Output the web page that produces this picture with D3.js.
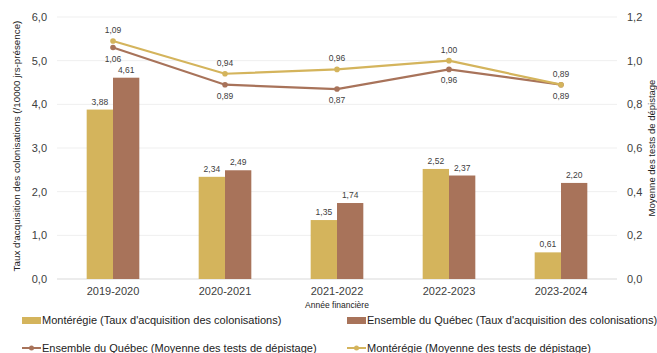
<!DOCTYPE html>
<html>
<head>
<meta charset="utf-8">
<script src="https://cdn.jsdelivr.net/npm/d3@7"></script>
<style>
  html, body { margin: 0; padding: 0; background: #fff; }
  svg { display: block; font-family: "Liberation Sans", Arial, sans-serif; }
</style>
</head>
<body>
<svg id="chart" width="657" height="353"></svg>
<script>
// Fiscal years and the four series
const years = ["2019-2020", "2020-2021", "2021-2022", "2022-2023", "2023-2024"];
const tauxMonteregie = [3.88, 2.34, 1.35, 2.52, 0.61];
const tauxQuebec = [4.61, 2.49, 1.74, 2.37, 2.20];
const testsQuebec = [1.06, 0.89, 0.87, 0.96, 0.89];
const testsMonteregie = [1.09, 0.94, 0.96, 1.00, 0.89];
const leftTicks = [0, 1, 2, 3, 4, 5, 6];
const rightTicks = [0, 0.2, 0.4, 0.6, 0.8, 1.0, 1.2];

const gold = "#D4B45C";
const brown = "#A8735A";
const textCol = "#404040";
const fmt2 = v => v.toFixed(2).replace(".", ",");

const svg = d3.select("#chart");
const m = { left: 57, right: 617, top: 17, bottom: 279 };

const x = d3.scaleBand().domain(years).range([m.left, m.right]).paddingInner(0.53).paddingOuter(0.265);
const xs = d3.scaleBand().domain(["m", "q"]).range([0, x.bandwidth()]);
const yL = d3.scaleLinear().domain([0, 6]).range([m.bottom, m.top]);
const yR = d3.scaleLinear().domain([0, 1.2]).range([m.bottom, m.top]);
const cx = d => x(d) + x.bandwidth() / 2;

// Horizontal grid
svg.append("g").selectAll("line").data(leftTicks).join("line")
  .attr("x1", m.left).attr("x2", m.right)
  .attr("y1", d => yL(d)).attr("y2", d => yL(d))
  .attr("stroke", d => d === 0 ? "#d9d9d9" : "#efefef").attr("stroke-width", 1);

// Left axis
const axL = svg.append("g").attr("transform", `translate(${m.left},0)`)
  .call(d3.axisLeft(yL).tickValues(leftTicks).tickFormat(d => d.toFixed(1).replace(".", ",")).tickSize(0).tickPadding(10));
axL.select(".domain").remove();
axL.selectAll("text").attr("font-size", 11).attr("fill", textCol).attr("font-family", "Liberation Sans, Arial, sans-serif");

// Right axis
const axR = svg.append("g").attr("transform", `translate(${m.right},0)`)
  .call(d3.axisRight(yR).tickValues(rightTicks).tickFormat(d => d.toFixed(1).replace(".", ",")).tickSize(0).tickPadding(10));
axR.select(".domain").remove();
axR.selectAll("text").attr("font-size", 11).attr("fill", textCol).attr("font-family", "Liberation Sans, Arial, sans-serif");

// Bottom axis
const axB = svg.append("g").attr("transform", `translate(0,${m.bottom})`)
  .call(d3.axisBottom(x).tickSize(0).tickPadding(8));
axB.select(".domain").remove();
axB.selectAll("text").attr("font-size", 11).attr("fill", textCol).attr("font-family", "Liberation Sans, Arial, sans-serif");

// Axis titles
svg.append("text").attr("transform", `translate(20,146) rotate(-90)`)
  .attr("text-anchor", "middle").attr("font-size", 9.8).attr("fill", "#222")
  .text("Taux d'acquisition des colonisations (/10000 jrs-présence)");
svg.append("text").attr("transform", `translate(655,148) rotate(-90)`)
  .attr("text-anchor", "middle").attr("font-size", 9.5).attr("fill", "#222")
  .text("Moyenne des tests de dépistage");
svg.append("text").attr("x", 337).attr("y", 308)
  .attr("text-anchor", "middle").attr("font-size", 8.5).attr("fill", "#222")
  .text("Année financière");

// Bars
const barData = years.map((y, i) => [
  { year: y, key: "m", v: tauxMonteregie[i], c: gold },
  { year: y, key: "q", v: tauxQuebec[i], c: brown }
]).flat();
svg.append("g").selectAll("rect").data(barData).join("rect")
  .attr("x", d => x(d.year) + xs(d.key))
  .attr("width", xs.bandwidth())
  .attr("y", d => yL(d.v))
  .attr("height", d => yL(0) - yL(d.v))
  .attr("fill", d => d.c);
svg.append("g").selectAll("text").data(barData).join("text")
  .attr("x", d => x(d.year) + xs(d.key) + xs.bandwidth() / 2)
  .attr("y", d => yL(d.v) - 5)
  .attr("text-anchor", "middle").attr("font-size", 8.5).attr("fill", textCol)
  .text(d => fmt2(d.v));

// Lines
function drawLine(vals, color, labelAbove) {
  const pts = years.map((y, i) => ({ year: y, v: vals[i] }));
  svg.append("path").datum(pts)
    .attr("fill", "none").attr("stroke", color).attr("stroke-width", 2.2)
    .attr("d", d3.line().x(d => cx(d.year)).y(d => yR(d.v)));
  svg.append("g").selectAll("circle").data(pts).join("circle")
    .attr("cx", d => cx(d.year)).attr("cy", d => yR(d.v)).attr("r", 2.8).attr("fill", color);
  svg.append("g").selectAll("text").data(pts).join("text")
    .attr("x", d => cx(d.year))
    .attr("y", d => labelAbove ? yR(d.v) - 8 : yR(d.v) + 14)
    .attr("text-anchor", "middle").attr("font-size", 8.5).attr("fill", textCol)
    .text(d => fmt2(d.v));
}
drawLine(testsQuebec, brown, false);
drawLine(testsMonteregie, gold, true);

// Legend
const legend = svg.append("g").attr("font-size", 11).attr("fill", "#222");
const legItems = [
  { type: "bar", c: gold, t: "Montérégie (Taux d'acquisition des colonisations)", x: 22, y: 320 },
  { type: "bar", c: brown, t: "Ensemble du Québec (Taux d'acquisition des colonisations)", x: 347, y: 320 },
  { type: "line", c: brown, t: "Ensemble du Québec (Moyenne des tests de dépistage)", x: 22, y: 348 },
  { type: "line", c: gold, t: "Montérégie (Moyenne des tests de dépistage)", x: 347, y: 348 }
];
legItems.forEach(d => {
  const g = legend.append("g").attr("transform", `translate(${d.x},${d.y})`);
  if (d.type === "bar") {
    g.append("rect").attr("x", 0).attr("y", -3).attr("width", 19).attr("height", 7).attr("fill", d.c);
  } else {
    g.append("line").attr("x1", 0).attr("x2", 19).attr("y1", 0).attr("y2", 0).attr("stroke", d.c).attr("stroke-width", 2);
    g.append("circle").attr("cx", 9.5).attr("cy", 0).attr("r", 2.5).attr("fill", d.c);
  }
  g.append("text").attr("x", 20).attr("y", 4).text(d.t);
});
</script>
</body>
</html>
